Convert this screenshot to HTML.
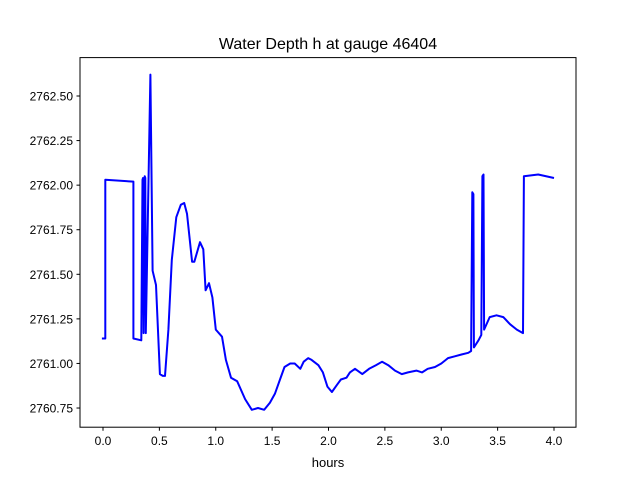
<!DOCTYPE html>
<html><head><meta charset="utf-8"><style>
body{margin:0;background:#fff}
svg{display:block;font-family:"Liberation Sans","DejaVu Sans",sans-serif}
</style></head><body>
<svg id="chart" width="640" height="480">
<text x="328" y="49" text-anchor="middle" font-size="16">Water Depth h at gauge 46404</text>
<rect x="80" y="57.6" width="496" height="369.6" fill="none" stroke="#000" stroke-width="1"/>
<text x="328" y="467" text-anchor="middle" font-size="13">hours</text>
<g id="ticks"></g>
<path id="line" fill="none" stroke="#0000ff" stroke-width="2" stroke-linejoin="round"/>
</svg>
<script>
const hours=[-0.01,0.02,0.02,0.27,0.27,0.34,0.35,0.355,0.36,0.37,0.375,0.38,0.42,0.44,0.47,0.505,0.53,0.55,0.58,0.61,0.65,0.69,0.72,0.745,0.79,0.81,0.86,0.89,0.91,0.94,0.97,1.0,1.055,1.09,1.135,1.19,1.26,1.32,1.375,1.43,1.48,1.525,1.57,1.61,1.66,1.70,1.75,1.78,1.82,1.85,1.91,1.95,1.99,2.03,2.075,2.11,2.16,2.19,2.235,2.30,2.36,2.42,2.475,2.53,2.59,2.65,2.705,2.78,2.83,2.88,2.945,3.0,3.06,3.12,3.18,3.24,3.265,3.275,3.285,3.29,3.33,3.355,3.365,3.375,3.38,3.43,3.49,3.55,3.61,3.67,3.725,3.733,3.86,4.0];
const depth=[2761.14,2761.14,2762.03,2762.02,2761.14,2761.13,2762.03,2762.04,2761.17,2762.05,2762.04,2761.17,2762.62,2761.52,2761.44,2760.94,2760.93,2760.93,2761.19,2761.58,2761.82,2761.89,2761.90,2761.84,2761.57,2761.57,2761.68,2761.64,2761.41,2761.45,2761.37,2761.19,2761.15,2761.02,2760.92,2760.90,2760.80,2760.74,2760.75,2760.74,2760.78,2760.83,2760.91,2760.98,2761.0,2761.0,2760.97,2761.01,2761.03,2761.02,2760.99,2760.95,2760.87,2760.84,2760.88,2760.91,2760.92,2760.95,2760.97,2760.94,2760.97,2760.99,2761.01,2760.99,2760.96,2760.94,2760.95,2760.96,2760.95,2760.97,2760.98,2761.0,2761.03,2761.04,2761.05,2761.06,2761.07,2761.96,2761.95,2761.09,2761.13,2761.16,2762.05,2762.06,2761.19,2761.26,2761.27,2761.26,2761.22,2761.19,2761.17,2762.05,2762.06,2762.04];
const xTicks=[0,0.5,1,1.5,2,2.5,3,3.5,4];
const xTickLabels=["0.0","0.5","1.0","1.5","2.0","2.5","3.0","3.5","4.0"];
const yTicks=[2760.75,2761,2761.25,2761.5,2761.75,2762,2762.25,2762.5];
const yTickLabels=["2760.75","2761.00","2761.25","2761.50","2761.75","2762.00","2762.25","2762.50"];
const xs=h=>103+h*112.75;
const ys=v=>96+(2762.5-v)*178.3;
const NS="http://www.w3.org/2000/svg";
const g=document.getElementById('ticks');
function mk(tag,attrs,txt){const e=document.createElementNS(NS,tag);for(const k in attrs)e.setAttribute(k,attrs[k]);if(txt!==undefined)e.textContent=txt;g.appendChild(e);return e;}
xTicks.forEach((t,i)=>{const x=xs(t);
const l=mk('line',{x1:x,x2:x,y1:427.2,y2:430.7,stroke:'#000'});


const tx=mk('text',{x:x,y:445,'text-anchor':'middle','font-size':'12'},xTickLabels[i]);

});
yTicks.forEach((t,i)=>{const y=ys(t);
const l=mk('line',{x1:76.5,x2:80,y1:y,y2:y,stroke:'#000'});


const tx=mk('text',{x:73,y:y+4.5,'text-anchor':'end','font-size':'12'},yTickLabels[i]);

});
document.getElementById('line').setAttribute('d',hours.map((h,i)=>(i?'L':'M')+xs(h).toFixed(1)+','+ys(depth[i]).toFixed(1)).join(''));
</script>
</body></html>
